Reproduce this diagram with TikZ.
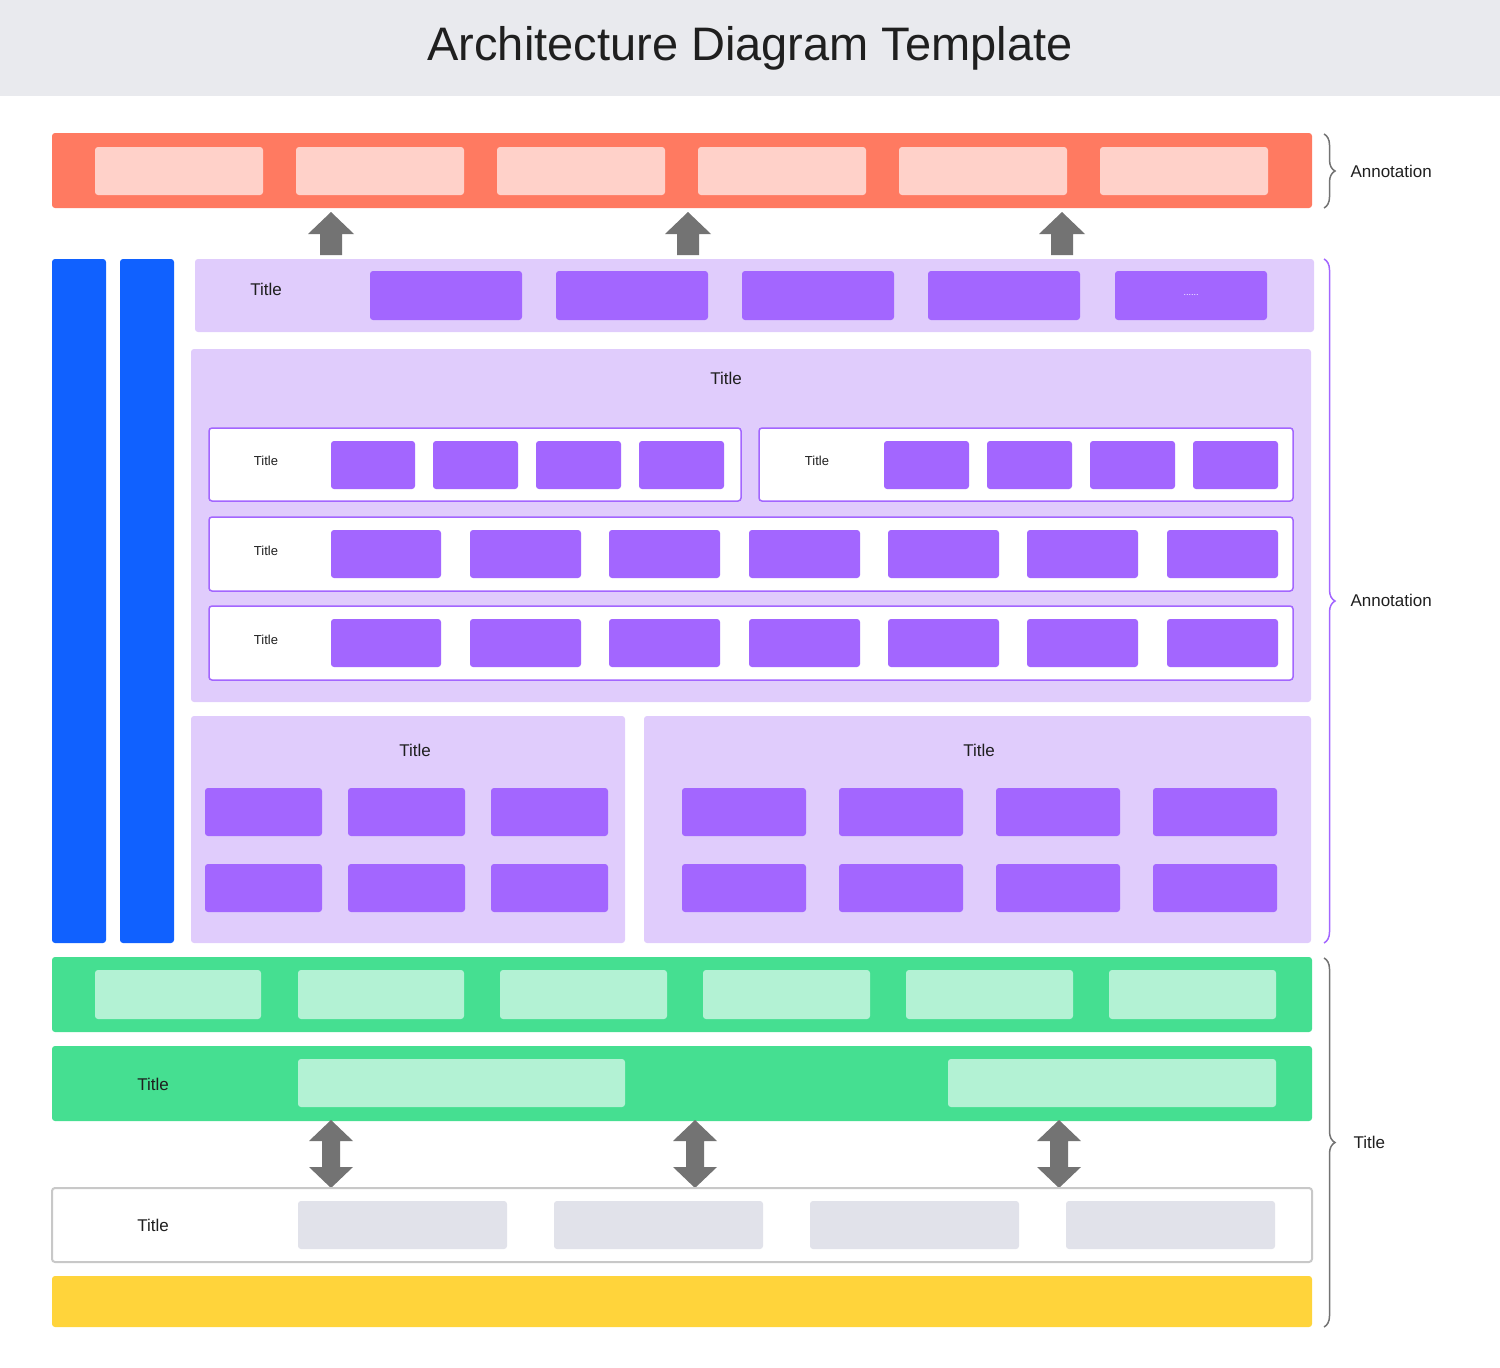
\documentclass[tikz,border=0pt]{standalone}
\usepackage{fontspec}
\setmainfont{Liberation Sans}
\usetikzlibrary{decorations.pathreplacing,calc}
\definecolor{hdr}{HTML}{E9EAEE}
\definecolor{org}{HTML}{FF7A61}
\definecolor{orgl}{HTML}{FFD1C9}
\definecolor{blu}{HTML}{1061FF}
\definecolor{lav}{HTML}{E0CCFC}
\definecolor{pur}{HTML}{A366FF}
\definecolor{grn}{HTML}{45DF91}
\definecolor{grnl}{HTML}{B3F2D4}
\definecolor{gry}{HTML}{737373}
\definecolor{gryl}{HTML}{E1E2EA}
\definecolor{bord}{HTML}{C8C8C8}
\definecolor{yel}{HTML}{FFD43B}
\definecolor{txt}{HTML}{1F1F1F}
\newcommand\bx[6]{\node[box,#5,minimum width={((#3)-(#1))*1pt},minimum height={((#4)-(#2))*1pt}] (#6) at (#1,#2) {};}
\tikzset{
 box/.style={anchor=north west,inner sep=0,outer sep=0,rounded corners=3pt,draw=none},
 lbl/.style={text=txt,font=\fontsize{17}{20}\selectfont},
 slbl/.style={text=txt,font=\fontsize{13}{16}\selectfont},
 arr/.style={fill=gry,draw=none},
 br/.style={decorate,decoration={brace,amplitude=11pt},line width=1.5pt},
}
\begin{document}
\begin{tikzpicture}[x=1pt,y=-1pt]
\useasboundingbox (0,0) rectangle (1500,1368);
\fill[hdr] (0,0) rectangle (1500,96);
\node[text=txt,font=\fontsize{47}{52}\selectfont] (title) at (750,48) {Architecture Diagram Template};
% orange
\bx{52}{133}{1312}{208}{fill=org}{top}
\foreach \a/\b [count=\i] in {95/263,296/464,497/665,698/866,899/1067,1100/1268}
 {\bx{\a}{147}{\b}{195}{fill=orgl}{t\i}}
% up arrows
\foreach \c [count=\i] in {331,688,1062}{
 \coordinate (ua\i) at (\c,255);
 \fill[arr] (\c-11,255) -- (\c-11,234) -- (\c-23,234) -- (\c,212) -- (\c+23,234) -- (\c+11,234) -- (\c+11,255) -- cycle;}
% blue
\bx{52}{259}{106}{943}{fill=blu}{b1}
\bx{120}{259}{174}{943}{fill=blu}{b2}
% row1
\bx{195}{259}{1314}{332}{fill=lav}{r1}
\node[lbl] (r1t) at (266,289) {Title};
\foreach \a/\b [count=\i] in {370/522,556/708,742/894,928/1080,1115/1267}
 {\bx{\a}{271}{\b}{320}{fill=pur}{r1b\i}}
\node[text=white,font=\fontsize{9}{9}\selectfont] (dots) at (r1b5.center) {......};
% big panel
\bx{191}{349}{1311}{702}{fill=lav}{big}
\node[lbl] (bigt) at (726,378) {Title};
\bx{209}{428}{741}{501}{fill=white,draw=pur,line width=1.5pt}{s1}
\bx{759}{428}{1293}{501}{fill=white,draw=pur,line width=1.5pt}{s2}
\node[slbl] (s1t) at (266,461) {Title};
\node[slbl] (s2t) at (817,461) {Title};
\foreach \a/\b [count=\i] in {331/415,433/518,536/621,639/724,884/969,987/1072,1090/1175,1193/1278}
 {\bx{\a}{441}{\b}{489}{fill=pur}{sb\i}}
\foreach \y/\n in {517/a,606/b}{
 \bx{209}{\y}{1293}{\y+74}{fill=white,draw=pur,line width=1.5pt}{row\n}
 \node[slbl] (row\n t) at (266,\y+34) {Title};
 \foreach \a/\b [count=\i] in {331/441,470/581,609/720,749/860,888/999,1027/1138,1167/1278}
  {\bx{\a}{\y+13}{\b}{\y+61}{fill=pur}{row\n b\i}}
}
% bottom panels
\bx{191}{716}{625}{943}{fill=lav}{pl}
\node[lbl] (plt) at (415,750) {Title};
\bx{644}{716}{1311}{943}{fill=lav}{pr}
\node[lbl] (prt) at (979,750) {Title};
\foreach \y/\n in {788/u,864/d}{
 \foreach \a/\b [count=\i] in {205/322,348/465,491/608}{\bx{\a}{\y}{\b}{\y+48}{fill=pur}{pl\n\i}}
 \foreach \a/\b [count=\i] in {682/806,839/963,996/1120,1153/1277}{\bx{\a}{\y}{\b}{\y+48}{fill=pur}{pr\n\i}}
}
% green
\bx{52}{957}{1312}{1032}{fill=grn}{g1}
\foreach \a/\b [count=\i] in {95/261,298/464,500/667,703/870,906/1073,1109/1276}
 {\bx{\a}{970}{\b}{1019}{fill=grnl}{g1b\i}}
\bx{52}{1046}{1312}{1121}{fill=grn}{g2}
\node[lbl] (g2t) at (153,1084) {Title};
\bx{298}{1059}{625}{1107}{fill=grnl}{g2b1}
\bx{948}{1059}{1276}{1107}{fill=grnl}{g2b2}
% double arrows
\foreach \c [count=\i] in {331,695,1059}{
 \coordinate (da\i) at (\c,1120);
 \fill[arr] (\c,1120) -- (\c+22,1141) -- (\c+9,1141) -- (\c+9,1167) -- (\c+22,1167) -- (\c,1188) -- (\c-22,1167) -- (\c-9,1167) -- (\c-9,1141) -- (\c-22,1141) -- cycle;}
% white bar
\bx{52}{1188}{1312}{1262}{fill=white,draw=bord,line width=2pt}{wb}
\node[lbl] (wbt) at (153,1225) {Title};
\foreach \a/\b [count=\i] in {298/507,554/763,810/1019,1066/1275}
 {\bx{\a}{1201}{\b}{1249}{fill=gryl}{wbb\i}}
% yellow
\bx{52}{1276}{1312}{1327}{fill=yel}{yb}
% braces
\coordinate (br1a) at (1324,134); \coordinate (br1b) at (1324,208);
\draw[br,draw=gry] (br1a) -- (br1b);
\node[lbl,anchor=west] (an1) at (1347,171) {Annotation};
\coordinate (br2a) at (1324,259); \coordinate (br2b) at (1324,943);
\draw[br,draw=pur] (br2a) -- (br2b);
\node[lbl,anchor=west] (an2) at (1347,600) {Annotation};
\coordinate (br3a) at (1324,958); \coordinate (br3b) at (1324,1327);
\draw[br,draw=gry] (br3a) -- (br3b);
\node[lbl,anchor=west] (an3) at (1350,1142) {Title};
\end{tikzpicture}
\end{document}
